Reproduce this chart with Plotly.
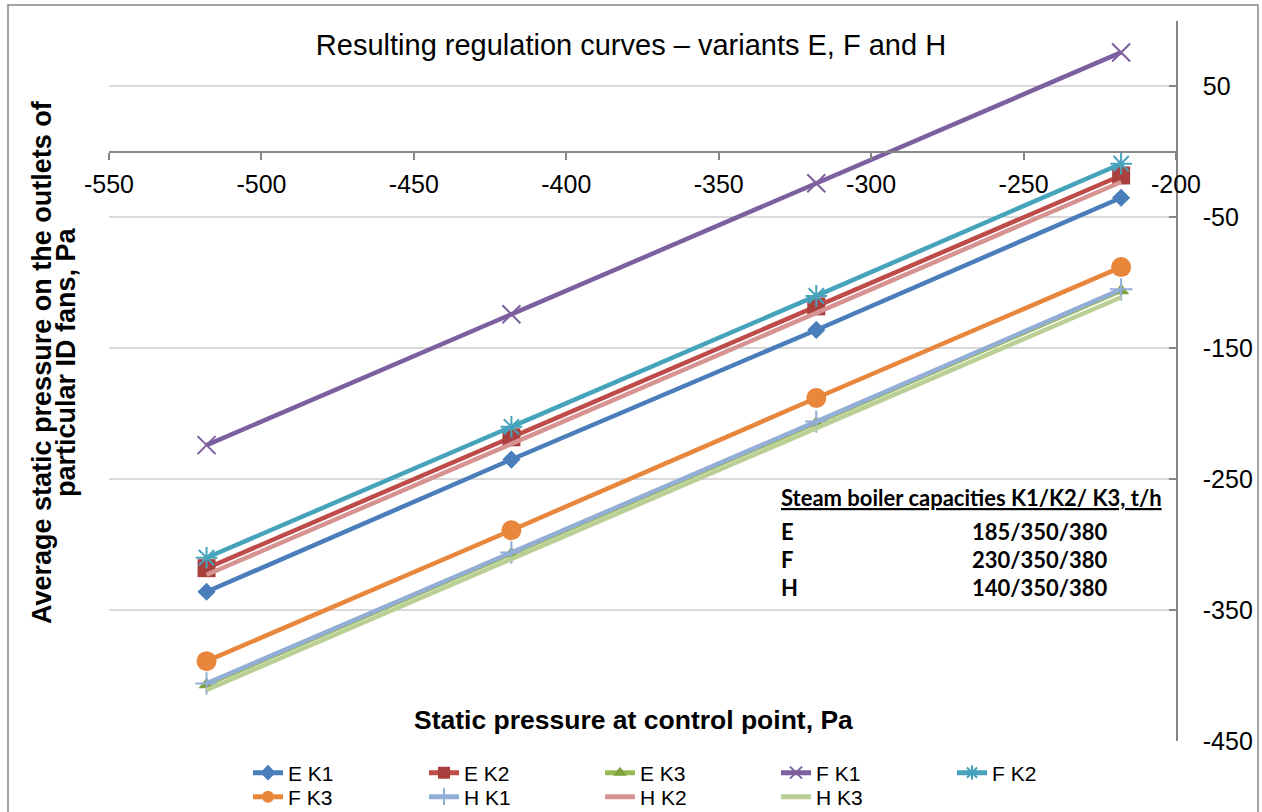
import plotly.graph_objects as go

# ---- data ----
x_vals = [-518, -418, -318, -218]
series_names = ["E K1", "E K2", "E K3", "F K1", "F K2", "F K3", "H K1", "H K2", "H K3"]
e_k1 = [-336, -235, -136, -35]
e_k2 = [-318, -218, -118, -18]
e_k3 = [-407, -307, -207, -106]
f_k1 = [-224, -124, -24, 76]
f_k2 = [-310, -210, -110, -9]
f_k3 = [-389, -289, -188, -88]
h_k1 = [-406, -306, -206, -105]
h_k2 = [-323, -223, -123, -23]
h_k3 = [-411, -311, -211, -111]
series_values = [e_k1, e_k2, e_k3, f_k1, f_k2, f_k3, h_k1, h_k2, h_k3]

x_range = [-550, -200]
y_range = [-450, 100]
x_ticks = [-550, -500, -450, -400, -350, -300, -250, -200]
y_ticks = [-450, -350, -250, -150, -50, 50]

box_header = "Steam boiler capacities K1/K2/ K3, t/h"
box_labels = ["E", "F", "H"]
box_values = ["185/350/380", "230/350/380", "140/350/380"]

title_text = "Resulting regulation curves \u2013 variants E, F and H"
x_title = "Static pressure at control point, Pa"
y_title_lines = ["Average static pressure on the outlets of", "particular ID fans, Pa"]

# ---- styles ----
styles = [
    dict(color="#4A7EBB", mcolor="#4A7EBB", symbol="diamond", size=14, mline=0),
    dict(color="#BE4B48", mcolor="#A9403D", symbol="square", size=18, mline=0),
    dict(color="#98B954", mcolor="#7FA33E", symbol="triangle-up", size=14, mline=0),
    dict(color="#7D5FA0", mcolor="#7D5FA0", symbol="x-thin", size=18, mline=2),
    dict(color="#46A3BC", mcolor="#46A3BC", symbol="asterisk", size=18, mline=2),
    dict(color="#E8863C", mcolor="#E8863C", symbol="circle", size=20, mline=0),
    dict(color="#93AED6", mcolor="#93AED6", symbol="cross-thin", size=16, mline=2),
    dict(color="#D69391", mcolor="#D69391", symbol=None, size=0, mline=0),
    dict(color="#BACF93", mcolor="#BACF93", symbol=None, size=0, mline=0),
]

W, H = 1262, 812
ML, MR, MT, MB = 109, 86, 21, 71
PW = W - ML - MR
PH = H - MT - MB

def px_x(p):
    return (p - ML) / PW

def px_y(p):
    return (H - MB - p) / PH

def fmt(v):
    return str(v)  # plain hyphen-minus like the original

fig = go.Figure()
for i, (name, vals, st) in enumerate(zip(series_names, series_values, styles)):
    kw = dict(
        x=x_vals, y=vals, name=name,
        line=dict(color=st["color"], width=4.5),
        legend="legend" if i < 5 else "legend2",
    )
    if st["symbol"]:
        kw["mode"] = "lines+markers"
        kw["marker"] = dict(symbol=st["symbol"], size=st["size"], color=st["mcolor"],
                            line=dict(color=st["mcolor"], width=st["mline"]))
    else:
        kw["mode"] = "lines"
    fig.add_trace(go.Scatter(**kw))

axis_gray = "#868686"
x_axis_pos = (0 - y_range[0]) / (y_range[1] - y_range[0])

legend_common = dict(orientation="h", x=px_x(248), xanchor="left", yanchor="middle",
                     entrywidth=131, entrywidthmode="pixels", font=dict(size=21),
                     bgcolor="rgba(0,0,0,0)", traceorder="normal", itemsizing="constant")

fig.update_layout(
    width=W, height=H, autosize=False,
    margin=dict(l=ML, r=MR, t=MT, b=MB, autoexpand=False),
    paper_bgcolor="white", plot_bgcolor="white",
    font=dict(family="Liberation Sans, Arial", color="black"),
    title=dict(text=title_text, x=0.5, xanchor="center", xref="container",
               y=1 - 45 / H, yanchor="middle", yref="container",
               font=dict(size=29, family="Liberation Sans, Arial", color="black")),
    xaxis=dict(range=x_range, tickvals=x_ticks, ticktext=[fmt(v) for v in x_ticks],
               showgrid=False, zeroline=False,
               showline=True, linecolor=axis_gray, linewidth=1.5,
               ticks="outside", ticklen=7, tickcolor=axis_gray, tickwidth=1.5,
               anchor="free", position=x_axis_pos,
               tickfont=dict(size=25), ticklabelstandoff=3),
    yaxis=dict(range=y_range, tickvals=y_ticks, ticktext=[fmt(v) for v in y_ticks],
               side="right", showgrid=True,
               gridcolor="#D9D9D9", gridwidth=1.5, zeroline=False,
               showline=True, linecolor=axis_gray, linewidth=1.5,
               ticks="inside", ticklen=7, tickcolor=axis_gray, tickwidth=1.5,
               tickfont=dict(size=25), ticklabelstandoff=20),
    legend=dict(y=px_y(773), **legend_common),
    legend2=dict(y=px_y(797), **legend_common),
    showlegend=True,
)

# outer chart border
fig.add_shape(type="rect", xref="paper", yref="paper",
              x0=px_x(8), x1=px_x(1258), y0=px_y(830), y1=px_y(5),
              line=dict(color=axis_gray, width=1.5), fillcolor="rgba(0,0,0,0)", layer="below")

# axis titles
fig.add_annotation(text="<b>" + x_title + "</b>", xref="paper", yref="paper",
                   x=px_x(633), y=px_y(720), xanchor="center", yanchor="middle",
                   showarrow=False, font=dict(size=26.5))
for k, line_txt in enumerate(y_title_lines):
    fig.add_annotation(text="<b>" + line_txt + "</b>", xref="paper", yref="paper",
                       x=px_x(42 + 24 * k), y=px_y(362), xanchor="center", yanchor="middle",
                       textangle=-90, showarrow=False, font=dict(size=27))

# text box
box_font = dict(family="Lato, Liberation Sans", size=22, color="black")
fig.add_annotation(text="<b><u>" + box_header + "</u></b>", xref="paper", yref="paper",
                   x=px_x(779), y=px_y(497), xanchor="left", yanchor="middle",
                   showarrow=False, font=box_font)
for k, (lab, val) in enumerate(zip(box_labels, box_values)):
    yy = px_y(531 + 28 * k)
    fig.add_annotation(text="<b>" + lab + "</b>", xref="paper", yref="paper",
                       x=px_x(779), y=yy, xanchor="left", yanchor="middle",
                       showarrow=False, font=box_font)
    fig.add_annotation(text="<b>" + val + "</b>", xref="paper", yref="paper",
                       x=px_x(970), y=yy, xanchor="left", yanchor="middle",
                       showarrow=False, font=box_font)

fig.write_html("out.html")
